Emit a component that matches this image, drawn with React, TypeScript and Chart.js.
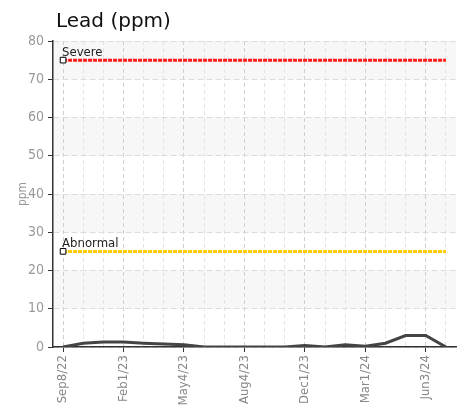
import React, { useEffect, useRef } from "react";
import { Chart, registerables } from "chart.js";

Chart.register(...registerables);

const TITLE = "Lead (ppm)";
const Y_TITLE = "ppm";
const DATES = [
  "Sep8/22", "Oct27/22", "Dec6/22", "Feb1/23", "Mar2/23", "Apr3/23",
  "May4/23", "Jun1/23", "Jul5/23", "Aug4/23", "Sep6/23", "Oct31/23",
  "Dec1/23", "Jan2/24", "Feb1/24", "Mar1/24", "Apr1/24", "May1/24",
  "Jun3/24", "Jul2/24",
];
const LEAD = [0, 1.0, 1.3, 1.3, 1.0, 0.8, 0.6, 0, 0, 0, 0, 0, 0.4, 0, 0.6, 0.2, 1.0, 3.0, 3.0, 0];
const SEVERE_LEVEL = 75;
const ABNORMAL_LEVEL = 25;
const Y_MIN = 0;
const Y_MAX = 80;
const Y_STEP = 10;
const BANDS = [[70, 80], [50, 60], [30, 40], [10, 20]];

const NARROW = "'Liberation Sans Narrow', 'DejaVu Sans Condensed', sans-serif";

const bandPlugin = {
  id: "bands",
  beforeDraw(chart: any) {
    const { ctx, chartArea, scales } = chart;
    const y = scales.y;
    ctx.save();
    ctx.fillStyle = "#f7f7f7";
    for (const [lo, hi] of BANDS) {
      const top = y.getPixelForValue(hi);
      const bot = y.getPixelForValue(lo);
      ctx.fillRect(chartArea.left, top, chartArea.right - chartArea.left, bot - top);
    }
    ctx.restore();
  },
};

const labelPlugin = {
  id: "thresholdLabels",
  afterDatasetsDraw(chart: any) {
    const { ctx } = chart;
    ctx.save();
    ctx.font = "13px " + NARROW;
    ctx.fillStyle = "#222";
    ctx.textAlign = "left";
    ctx.textBaseline = "alphabetic";
    chart.data.datasets.forEach((ds: any, i: number) => {
      if (!ds.thresholdLabel) return;
      const meta = chart.getDatasetMeta(i);
      const p = meta.data[0];
      if (!p) return;
      ctx.fillText(ds.thresholdLabel, p.x - 1, p.y - 4);
    });
    ctx.restore();
  },
};

const titlePlugin = {
  id: "customTitle",
  afterDraw(chart: any) {
    const { ctx } = chart;
    ctx.save();
    ctx.font = "20px 'DejaVu Sans', sans-serif";
    ctx.fillStyle = "#111";
    ctx.textAlign = "left";
    ctx.textBaseline = "alphabetic";
    ctx.fillText(TITLE, 56, 27);
    ctx.restore();
  },
};

export default function App() {
  const ref = useRef<HTMLCanvasElement>(null);

  useEffect(() => {
    if (!ref.current) return;
    const firstOnly = (r: number) => (c: any) => (c.dataIndex === 0 ? r : 0);
    const chart = new Chart(ref.current, {
      type: "line",
      data: {
        labels: DATES,
        datasets: [
          {
            label: "Lead",
            data: LEAD,
            borderColor: "#444",
            borderWidth: 3,
            pointRadius: 0,
            tension: 0,
            order: 3,
          } as any,
          {
            label: "Severe",
            thresholdLabel: "Severe",
            data: DATES.map(() => SEVERE_LEVEL),
            borderColor: "#ff1a1a",
            borderWidth: 3,
            borderDash: [4, 1],
            pointRadius: firstOnly(4),
            pointStyle: "rect",
            pointBackgroundColor: "#fff",
            pointBorderColor: "#000",
            pointBorderWidth: 1,
            order: 1,
          } as any,
          {
            label: "Abnormal",
            thresholdLabel: "Abnormal",
            data: DATES.map(() => ABNORMAL_LEVEL),
            borderColor: "#ffcc00",
            borderWidth: 3,
            borderDash: [4, 1],
            pointRadius: firstOnly(4),
            pointStyle: "rect",
            pointBackgroundColor: "#fff",
            pointBorderColor: "#000",
            pointBorderWidth: 1,
            order: 2,
          } as any,
        ],
      },
      options: {
        animation: false,
        responsive: true,
        maintainAspectRatio: false,
        layout: { autoPadding: false, padding: { top: 41, right: 2, left: 0, bottom: 0 } },
        plugins: {
          legend: { display: false },
          title: { display: false },
          tooltip: { enabled: false },
        },
        scales: {
          x: {
            type: "category",
            offset: true,
            afterFit: (s: any) => {
              s.height = 60;
              s.paddingLeft = 0;
              s.paddingRight = 0;
            },
            border: { color: "#333", width: 1.5, dash: [4, 3] },
            grid: {
              color: (c: any) => (c.index % 3 === 0 ? "#cfcfcf" : "#e4e4e4"),
              tickBorderDash: [],
              tickColor: (c: any) => (c.index % 3 === 0 ? "#333" : "rgba(0,0,0,0)"),
              tickLength: 5,
              offset: false,
            },
            ticks: {
              autoSkip: false,
              maxRotation: 90,
              minRotation: 90,
              padding: 3,
              color: "#888",
              font: { family: NARROW, size: 13 },
              callback: function (this: any, val: any, index: number) {
                return index % 3 === 0 ? this.getLabelForValue(val) : "";
              },
            },
          },
          y: {
            min: Y_MIN,
            max: Y_MAX,
            afterFit: (s: any) => {
              s.width = 53;
              s.paddingTop = 0;
              s.paddingBottom = 0;
            },
            border: { color: "#333", width: 1.5, dash: [6, 3] },
            grid: {
              color: "#dcdcdc",
              tickBorderDash: [],
              tickColor: "#333",
              tickLength: 5,
            },
            ticks: {
              stepSize: Y_STEP,
              padding: 4,
              color: "#999",
              font: { family: NARROW, size: 14 },
            },
            title: {
              display: true,
              text: Y_TITLE,
              color: "#999",
              font: { family: NARROW, size: 12 },
              padding: { top: 16, bottom: 0 },
            },
          },
        },
      },
      plugins: [bandPlugin, labelPlugin, titlePlugin],
    });
    return () => chart.destroy();
  }, []);

  return (
    <div style={{ position: "absolute", left: 0, top: 0, width: 458, height: 407, background: "#fff" }}>
      <canvas ref={ref} />
    </div>
  );
}
